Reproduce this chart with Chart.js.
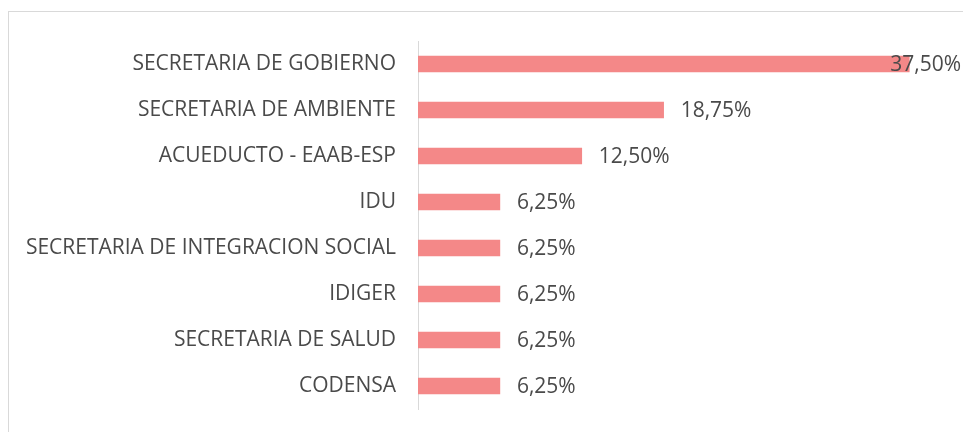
<!DOCTYPE html>
<html>
<head>
<meta charset="utf-8">
<script src="https://cdn.jsdelivr.net/npm/chart.js@4.4.0/dist/chart.umd.min.js"></script>
<style>
    html, body { margin: 0; padding: 0; background: #fff; }
    #chartBox { position: relative; width: 963px; height: 432px; overflow: hidden; }
    #frame { position: absolute; left: 8px; top: 11px; width: 1000px; height: 500px;
        border-left: 1px solid #d9d9d9; border-top: 1px solid #d9d9d9; }
    canvas { position: absolute; left: 0; top: 0; }
</style>
</head>
<body>
<div id="chartBox">
    <div id="frame"></div>
    <canvas id="myChart" width="963" height="432"></canvas>
</div>
<script>
const labels = [
    "SECRETARIA DE GOBIERNO",
    "SECRETARIA DE AMBIENTE",
    "ACUEDUCTO - EAAB-ESP",
    "IDU",
    "SECRETARIA DE INTEGRACION SOCIAL",
    "IDIGER",
    "SECRETARIA DE SALUD",
    "CODENSA"
];
const values = [37.5, 18.75, 12.5, 6.25, 6.25, 6.25, 6.25, 6.25];

const textColor = "#4a4a4a";
const fontFamily = "'Open Sans', sans-serif";

function formatPct(v) {
    return v.toFixed(2).replace('.', ',') + '%';
}

// labels to the right of each bar, pushed back inside the canvas when too wide
const valueLabels = {
    id: 'valueLabels',
    afterDatasetsDraw(chart) {
        const ctx = chart.ctx;
        const meta = chart.getDatasetMeta(0);
        ctx.save();
        ctx.font = "21px " + fontFamily;
        ctx.fillStyle = textColor;
        ctx.textBaseline = 'middle';
        meta.data.forEach((bar, i) => {
            const txt = formatPct(values[i]);
            const w = ctx.measureText(txt).width;
            let x = bar.x + 17;
            if (x + w > chart.width - 2) {
                x = chart.width - 2 - w;
            }
            ctx.fillText(txt, x, bar.y + 1);
        });
        ctx.restore();
    }
};

const config = {
    type: 'bar',
    data: {
        labels: labels,
        datasets: [{
            data: values,
            backgroundColor: '#f48888',
            borderWidth: 0,
            barThickness: 16
        }]
    },
    options: {
        indexAxis: 'y',
        responsive: false,
        animation: false,
        layout: {
            padding: { left: 0, right: 21, top: 41, bottom: 23 }
        },
        plugins: {
            legend: { display: false },
            tooltip: { enabled: false }
        },
        scales: {
            x: {
                display: false,
                min: 0,
                max: 40
            },
            y: {
                afterFit: (scale) => {
                    scale.width = 418;
                    scale.paddingTop = 0;
                    scale.paddingBottom = 0;
                },
                grid: { display: false, drawTicks: false },
                border: { display: true, color: '#d9d9d9', width: 1 },
                ticks: {
                    padding: 22,
                    color: textColor,
                    font: { family: fontFamily, size: 21 }
                }
            }
        }
    },
    plugins: [valueLabels]
};

new Chart(document.getElementById('myChart'), config);
</script>
</body>
</html>
